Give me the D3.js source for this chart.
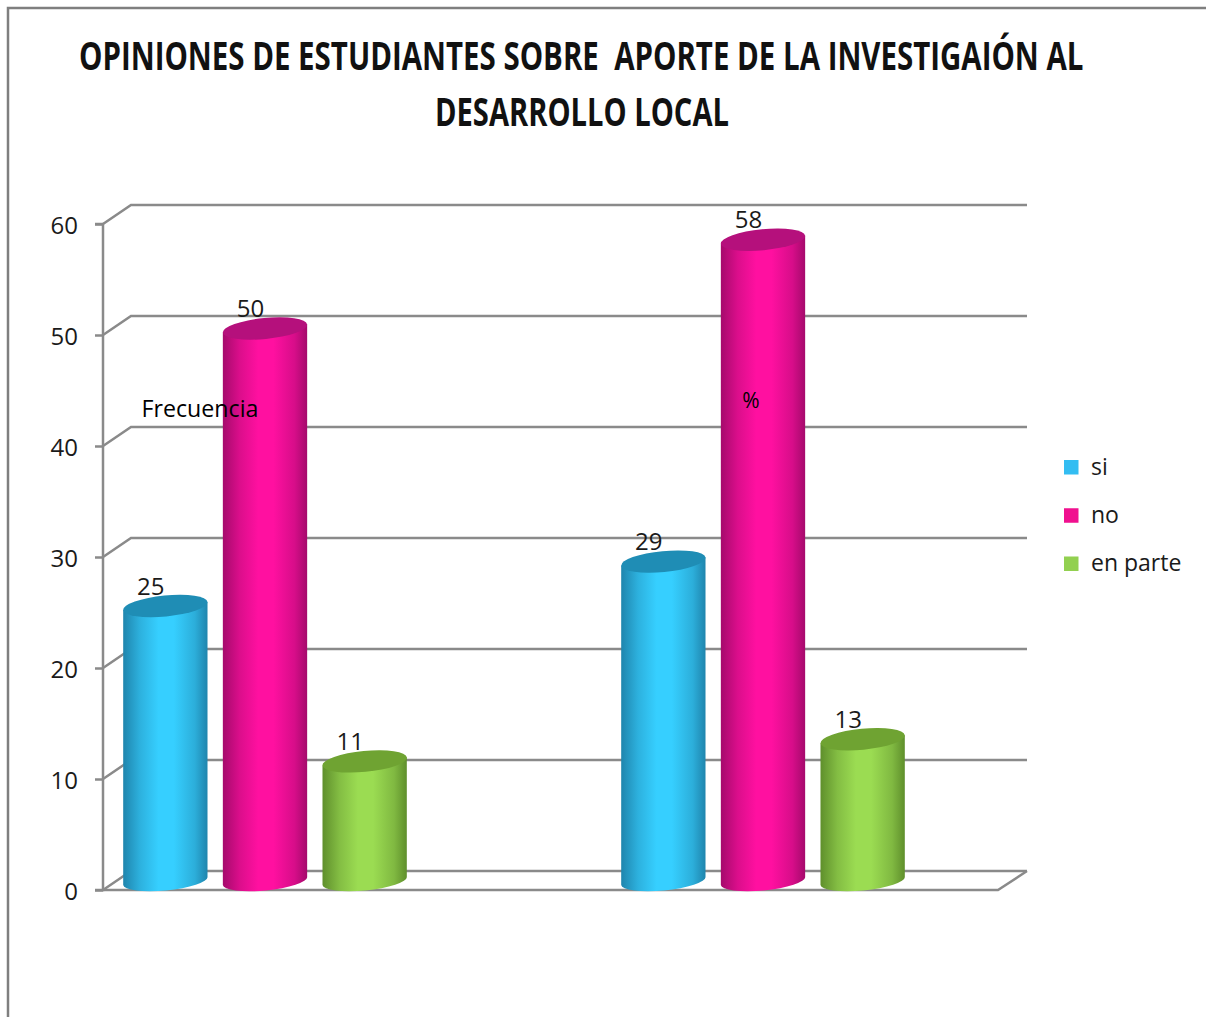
<!DOCTYPE html>
<html><head><meta charset="utf-8">
<script src="https://d3js.org/d3.v7.min.js"></script>
<style>html,body{margin:0;padding:0;background:#fff;overflow:hidden}svg{display:block}text{font-family:"Open Sans",sans-serif;white-space:pre}</style>
</head><body><svg id="c" width="1206" height="1017"></svg>
<script>
const categories = ["Frecuencia", "%"];
const seriesNames = ["si", "no", "en parte"];
const si = [25, 29];
const no = [50, 58];
const enParte = [11, 13];
const yTicks = [0, 10, 20, 30, 40, 50, 60];
const titleLines = ["OPINIONES DE ESTUDIANTES SOBRE  APORTE DE LA INVESTIGAIÓN AL", "DESARROLLO LOCAL"];
const palette = {
  "si": {mid:"#36cfff", edge:"#1f85ad", top:"#1f8db5", key:"#33bdf2"},
  "no": {mid:"#ff10a0", edge:"#a50a6c", top:"#b5107c", key:"#f0108f"},
  "en parte": {mid:"#9bdc52", edge:"#5f8f2c", top:"#6fa332", key:"#92d050"}
};
const values = {"si": si, "no": no, "en parte": enParte};

const svg = d3.select("#c");
const ink = "#1a1a1a", grid = "#8a8a8a";

// frame
svg.append("path").attr("d","M8,1017V8H1206").attr("fill","none").attr("stroke","#7f7f7f").attr("stroke-width",2.5);

// title: squeezed horizontally to the reference's narrow lettering
[[79,69.5,1005],[435,125.5,294]].forEach((p,i)=>{
  const t = svg.append("text").attr("font-size",39).attr("font-weight",700).attr("fill","#111").text(titleLines[i]);
  const k = p[2]/t.node().getComputedTextLength();
  t.attr("transform",`translate(${p[0]},${p[1]}) scale(${k},1)`);
});

// scales
const y = d3.scaleLinear().domain([0,60]).range([890,224]);
const x0 = d3.scaleBand().domain(categories).range([16,1012]);
const x1 = d3.scaleBand().domain(seriesNames).range([-142,142]).paddingInner(0.15);

// gradients
const defs = svg.append("defs");
seriesNames.forEach((s,i)=>{
  const g = defs.append("linearGradient").attr("id","g"+i).attr("x1",0).attr("x2",1).attr("y1",0).attr("y2",0);
  const blend = d3.interpolateRgb(palette[s].edge,palette[s].mid);
  [[0,palette[s].edge],[0.2,blend(0.6)],[0.42,palette[s].mid],[0.6,palette[s].mid],[0.85,blend(0.55)],[1,palette[s].edge]]
    .forEach(d=>g.append("stop").attr("offset",d[0]).attr("stop-color",d[1]));
});

// walls and gridlines
const dx = 28, dy = 19, xL = 103, xR = 998;
const gridG = svg.append("g").attr("fill","none").attr("stroke",grid).attr("stroke-width",2.5);
yTicks.forEach(t=>{
  gridG.append("path").attr("d",`M${xL},${y(t)}L${xL+dx},${y(t)-dy}H${xR+dx+1}`);
});
gridG.append("path").attr("d",`M${xL},${y(0)}H${xR}L${xR+dx+1},${y(0)-dy}`);

// axis
const axis = d3.axisLeft(y).tickValues(yTicks).tickSize(8).tickPadding(17);
const ax = svg.append("g").attr("transform",`translate(${xL},0)`).call(axis);
ax.select(".domain").attr("stroke",grid).attr("stroke-width",2.5).attr("d",`M-8,${y(60)}H0V${y(0)}H-8`);
ax.selectAll(".tick line").attr("stroke",grid).attr("stroke-width",2.5);
ax.selectAll(".tick text").attr("font-size",24).attr("font-family",'"Open Sans",sans-serif').attr("fill",ink).attr("dy","0.4em");

// value labels (sit behind the bar caps)
const a = Math.PI*5.5/180, ca = Math.cos(a), sa = Math.sin(a), ry = 10.5, liftTop = 6.5, liftBase = 9;
seriesNames.forEach(s=>{
  categories.forEach((c,j)=>{
    const v = values[s][j];
    const cx = x0(c)+x0.bandwidth()/2+x1(s)+x1.bandwidth()/2;
    svg.append("text").attr("x",cx-14.5).attr("y",y(v)-18).attr("text-anchor","middle")
      .attr("font-size",24).attr("fill",ink).text(v);
  });
});

// cylinders
seriesNames.forEach((s,i)=>{
  categories.forEach((c,j)=>{
    const v = values[s][j];
    const cx = x0(c)+x0.bandwidth()/2+x1(s)+x1.bandwidth()/2;
    const rx = x1.bandwidth()/2;
    const yt = y(v)-liftTop, yb = y(0)-liftBase;
    const lx = cx-rx*ca, rxx = cx+rx*ca, off = rx*sa;
    svg.append("path").attr("fill",`url(#g${i})`)
      .attr("d",`M${lx},${yt+off}L${lx},${yb+off}A${rx},${ry-1} -5.5 0 0 ${rxx},${yb-off}L${rxx},${yt-off}Z`);
    svg.append("ellipse").attr("cx",0).attr("cy",0).attr("rx",rx).attr("ry",ry)
      .attr("transform",`translate(${cx},${yt}) rotate(-5.5)`).attr("fill",palette[s].top);
  });
});

// category annotations
svg.append("text").attr("x",x0(categories[0])+x0.bandwidth()/2-65).attr("y",417).attr("text-anchor","middle").attr("font-size",23.2).attr("fill","#000").text(categories[0]);
svg.append("text").attr("x",x0(categories[1])+x0.bandwidth()/2-12).attr("y",408).attr("text-anchor","middle").attr("font-size",21).attr("fill","#000").text(categories[1]);

// legend
const legY = d3.scalePoint().domain(seriesNames).range([467,563.5]);
seriesNames.forEach(s=>{
  svg.append("rect").attr("x",1064).attr("y",legY(s)-7).attr("width",14.5).attr("height",14.5).attr("fill",palette[s].key);
  svg.append("text").attr("x",1091).attr("y",legY(s)+7.5).attr("font-size",23).attr("fill",ink).text(s);
});
</script></body></html>
